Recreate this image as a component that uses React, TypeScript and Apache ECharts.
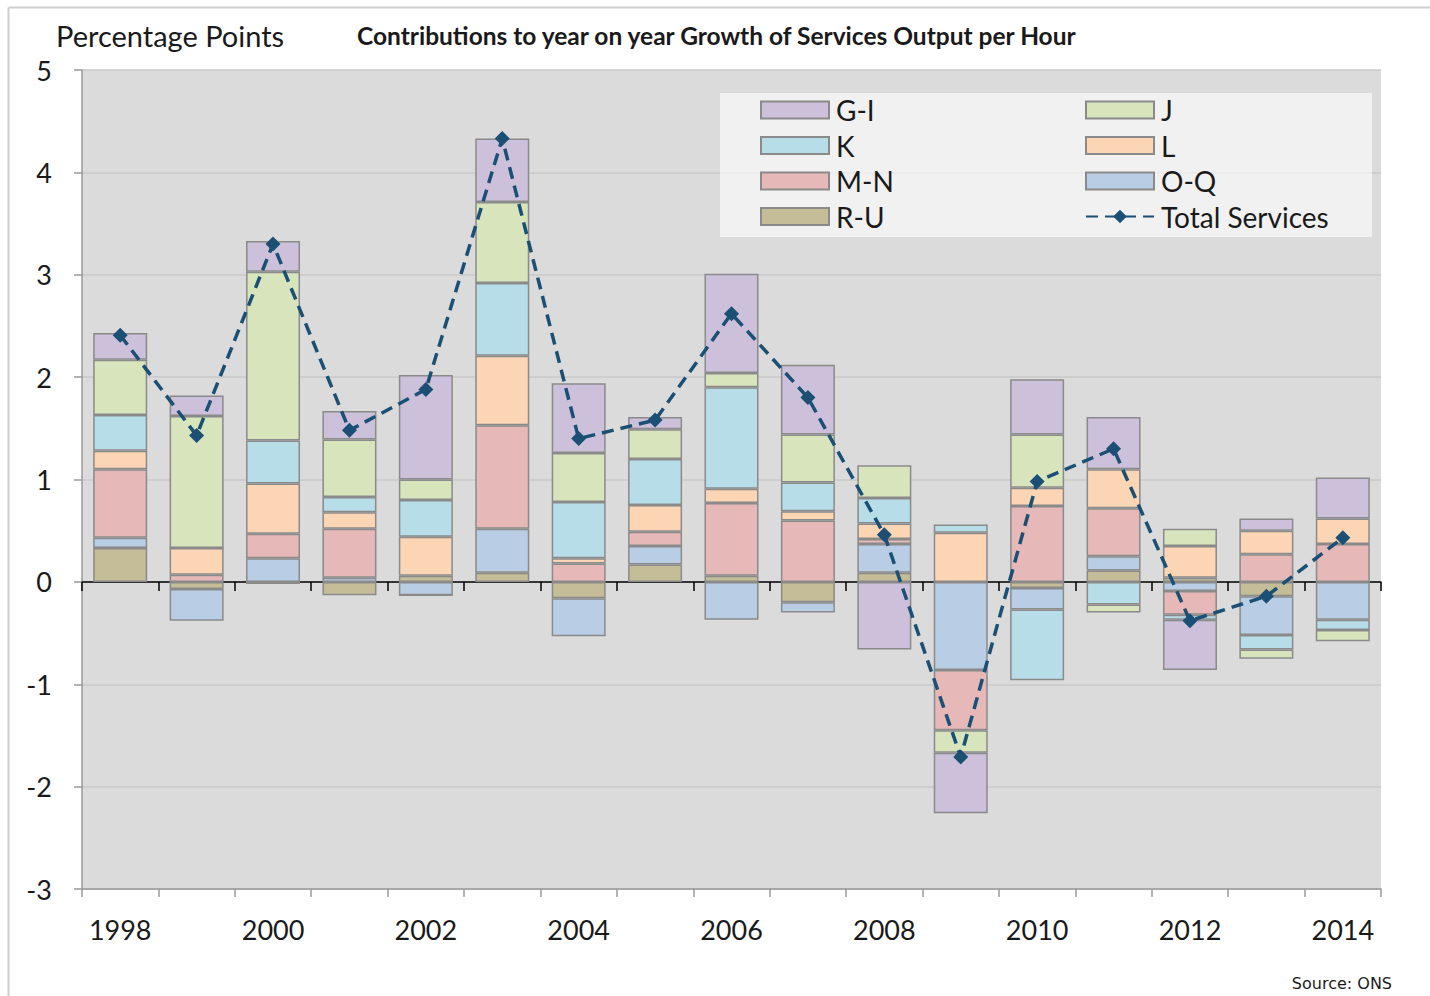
import React, { useEffect, useRef } from "react";
import * as echarts from "echarts";

const years = ["1998","1999","2000","2001","2002","2003","2004","2005","2006","2007","2008","2009","2010","2011","2012","2013","2014"];
const GI = [0.26, 0.20, 0.30, 0.28, 1.02, 0.62, 0.68, 0.12, 0.97, 0.68, -0.66, -0.59, 0.54, 0.51, -0.49, 0.12, 0.40];
const J = [0.54, 1.29, 1.65, 0.56, 0.20, 0.79, 0.48, 0.29, 0.14, 0.47, 0.32, -0.22, 0.52, -0.08, 0.17, -0.09, -0.11];
const K = [0.35, 0, 0.42, 0.15, 0.36, 0.71, 0.55, 0.45, 0.99, 0.28, 0.25, 0.08, -0.69, -0.22, -0.05, -0.14, -0.10];
const L = [0.18, 0.26, 0.49, 0.16, 0.38, 0.68, 0.05, 0.26, 0.14, 0.09, 0.15, 0.48, 0.18, 0.38, 0.31, 0.23, 0.25];
const MN = [0.67, 0.07, 0.24, 0.48, 0, 1.01, 0.18, 0.14, 0.71, 0.60, 0.05, -0.59, 0.74, 0.47, -0.23, 0.27, 0.37];
const OQ = [0.10, -0.31, 0.23, 0.04, -0.13, 0.43, -0.37, 0.18, -0.37, -0.10, 0.28, -0.86, -0.21, 0.14, -0.09, -0.38, -0.37];
const RU = [0.33, -0.07, -0.02, -0.13, 0.06, 0.09, -0.16, 0.17, 0.06, -0.20, 0.09, 0, -0.06, 0.11, 0.04, -0.14, 0];
const TOTAL = [2.41, 1.43, 3.30, 1.48, 1.88, 4.33, 1.40, 1.58, 2.62, 1.80, 0.46, -1.71, 0.98, 1.30, -0.38, -0.14, 0.43];

const FONT = "Lato";

export default function App() {
  const ref = useRef<HTMLDivElement>(null);
  useEffect(() => {
    const chart = echarts.init(ref.current!, undefined, { renderer: "svg" });
    const barSeries = [
      { name: "R-U", data: RU, color: "#c4bd97" },
      { name: "O-Q", data: OQ, color: "#b9cde5" },
      { name: "M-N", data: MN, color: "#e6b9b8" },
      { name: "L", data: L, color: "#fcd5b4" },
      { name: "K", data: K, color: "#b7dee8" },
      { name: "J", data: J, color: "#d7e4bc" },
      { name: "G-I", data: GI, color: "#ccc0da" },
    ].map((s) => ({
      name: s.name,
      type: "bar",
      stack: "total",
      data: s.data,
      barWidth: 54,
      xAxisIndex: 0,
      itemStyle: { color: s.color, borderColor: "#8a8a8a", borderWidth: 1.5 },
      z: 2,
    }));
    const legendCommon = {
      orient: "vertical",
      top: 95,
      itemWidth: 68,
      itemHeight: 17,
      itemGap: 5.5,
      padding: 0,
      textStyle: { fontFamily: FONT, fontSize: 28, color: "#1a1a1a", lineHeight: 30, padding: [0, 0, 0, 2] },
      z: 10,
    };
    const li = (n: string) => ({ name: n, icon: "rect" });
    chart.setOption({
      animation: false,
      backgroundColor: "#ffffff",
      title: [
        { text: "Percentage Points", left: 56, top: 21, padding: 0, textStyle: { fontFamily: FONT, fontSize: 29, fontWeight: "normal", color: "#1a1a1a" } },
        { text: "Contributions to year on year Growth of Services Output per Hour", left: 357, top: 23, padding: 0, textStyle: { fontFamily: FONT, fontSize: 24.5, fontWeight: "bold", color: "#1a1a1a" } },
        { text: "Source: ONS", right: 38, top: 975, padding: 0, textStyle: { fontFamily: "DejaVu Sans", fontSize: 16, fontWeight: "normal", color: "#1a1a1a" } },
      ],
      graphic: [
        { type: "line", shape: { x1: 8.5, y1: 7.5, x2: 1430, y2: 7.5 }, style: { stroke: "#cfcfcf", lineWidth: 2 } },
        { type: "line", shape: { x1: 8.5, y1: 7.5, x2: 8.5, y2: 996 }, style: { stroke: "#cfcfcf", lineWidth: 2 } },
        { type: "rect", shape: { x: 720, y: 93, width: 652, height: 144 }, style: { fill: "rgba(255,255,255,0.62)" }, z: 5 },
      ],
      legend: [
        { ...legendCommon, left: 760, data: [li("G-I"), li("K"), li("M-N"), li("R-U")] },
        { ...legendCommon, left: 1085, data: [li("J"), li("L"), li("O-Q"), { name: "Total Services" }] },
      ],
      grid: { left: 82, top: 70, right: 49, bottom: 107, backgroundColor: "#dbdbdb", show: true, borderWidth: 0 },
      xAxis: [
        {
          type: "category",
          data: years,
          position: "bottom",
          axisLine: { onZero: false, lineStyle: { color: "#9a9a9a", width: 1.5 } },
          axisTick: { show: true, interval: 0, length: 8, alignWithLabel: false, lineStyle: { color: "#9a9a9a", width: 1.5 } },
          axisLabel: { interval: 1, margin: 27, fontFamily: FONT, fontSize: 27, color: "#1a1a1a" },
          splitLine: { show: false },
        },
        {
          type: "category",
          data: years,
          position: "bottom",
          axisLine: { onZero: true, lineStyle: { color: "#000000", width: 1.5 } },
          axisTick: { show: true, interval: 0, length: 9, alignWithLabel: false, lineStyle: { color: "#000000", width: 1.5 } },
          axisLabel: { show: false },
          splitLine: { show: false },
        },
      ],
      yAxis: {
        type: "value",
        min: -3,
        max: 5,
        interval: 1,
        axisLine: { show: true, lineStyle: { color: "#9a9a9a", width: 1.5 } },
        axisTick: { show: true, length: 8, lineStyle: { color: "#9a9a9a", width: 1.5 } },
        axisLabel: { margin: 30, fontFamily: FONT, fontSize: 27, color: "#1a1a1a" },
        splitLine: { show: true, lineStyle: { color: "#c8c8c8", width: 1.5 } },
      },
      series: [
        ...barSeries,
        {
          name: "Total Services",
          type: "line",
          data: TOTAL,
          xAxisIndex: 0,
          symbol: "diamond",
          symbolSize: 15,
          color: "#1b4f74",
          lineStyle: { color: "#1b4f74", width: 3.5, type: [12, 7] },
          itemStyle: { color: "#1b4f74" },
          z: 5,
        },
      ],
    });
    return () => chart.dispose();
  }, []);
  return <div ref={ref} style={{ position: "fixed", left: 0, top: 0, width: 1430, height: 996 }} />;
}
